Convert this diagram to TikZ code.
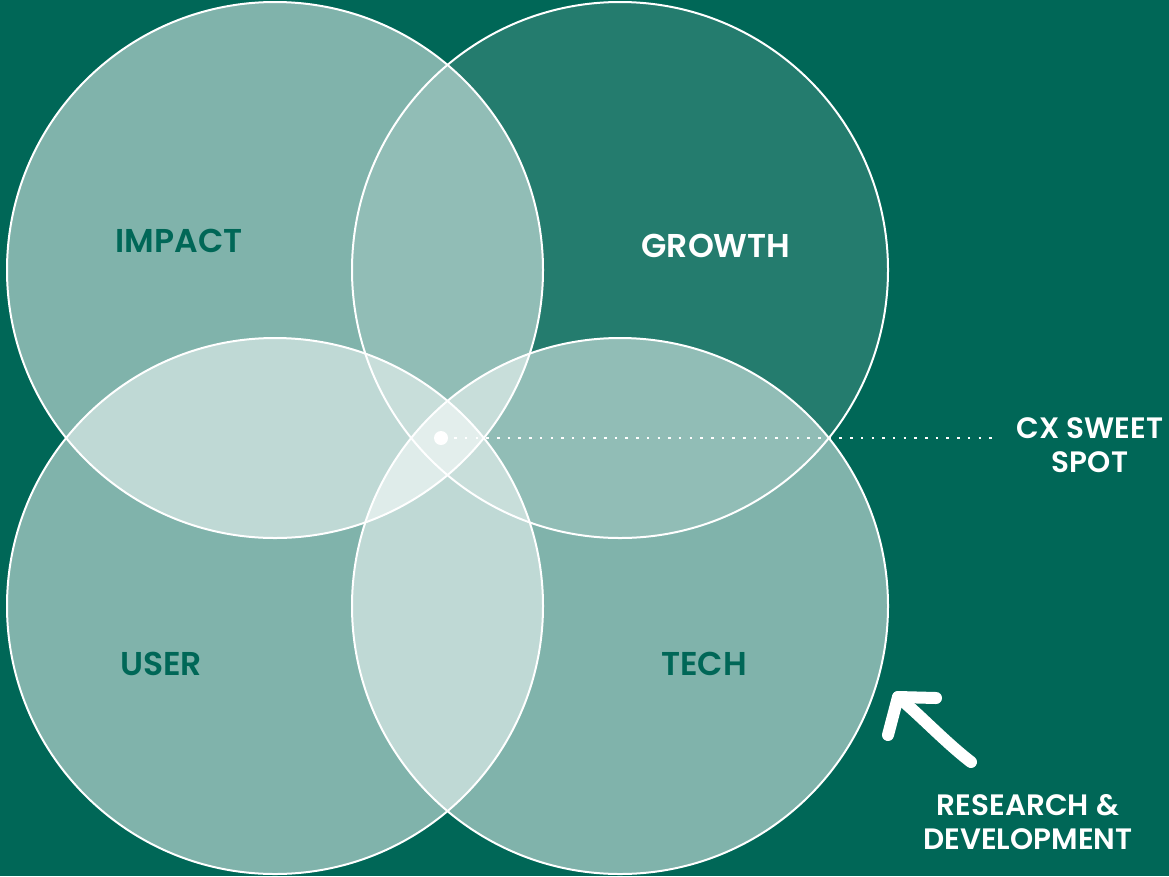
\documentclass[tikz,border=0pt]{standalone}
\usepackage{fontspec}
\setmainfont{Poppins}[BoldFont={Poppins SemiBold}]
\definecolor{bggreen}{RGB}{0,103,87}
\tikzset{
  venn/.style={draw=white, line width=2pt, fill=white},
  lbl/.style={font=\fontsize{33}{34}\selectfont\bfseries, inner sep=0pt},
  darklbl/.style={lbl, text=bggreen},
  whitelbl/.style={lbl, text=white, align=center},
  smalllbl/.style={whitelbl, font=\fontsize{29.5}{34}\selectfont\bfseries},
}
\begin{document}
\begin{tikzpicture}[x=1pt,y=-1pt]
\fill[bggreen] (0,0) rectangle (1169,876);
\useasboundingbox (0,0) rectangle (1169,876);
% circles
\path[venn, fill opacity=0.5] (275,270) circle (268);
\path[venn, fill opacity=0.14] (620,270) circle (268);
\path[venn, fill opacity=0.5] (275,606) circle (268);
\path[venn, fill opacity=0.5] (620,606) circle (268);
% labels
\node[darklbl] (impact) at (179,241) {IMPACT};
\node[whitelbl] (growth) at (716,246) {GROWTH};
\node[darklbl] (user) at (161,664) {USER};
\node[darklbl] (tech) at (704,664) {TECH};
% sweet spot
\node[circle, fill=white, inner sep=0pt, minimum size=14pt] (dot) at (441,438) {};
\coordinate (dotend) at (996,438);
\draw[white, line width=2.5pt, dash pattern=on 2.5pt off 8.2pt] ([xshift=6pt]dot.east) -- (dotend);
\node[smalllbl] (cx) at (1090,445) {CX SWEET\\SPOT};
% research arrow
\coordinate (a0) at (971,762);
\coordinate (a1) at (898,697);
\coordinate (a2) at (888,735);
\coordinate (a3) at (936,698);
\draw[white, line width=12pt, line cap=round, line join=round]
  (a0) .. controls (945,742) and (920,715) .. (a1);
\draw[white, line width=12pt, line cap=round, line join=round]
  (a2) -- (a1) -- (a3);
\node[smalllbl] (rd) at (1028,822) {RESEARCH \&\\DEVELOPMENT};
\end{tikzpicture}
\end{document}
